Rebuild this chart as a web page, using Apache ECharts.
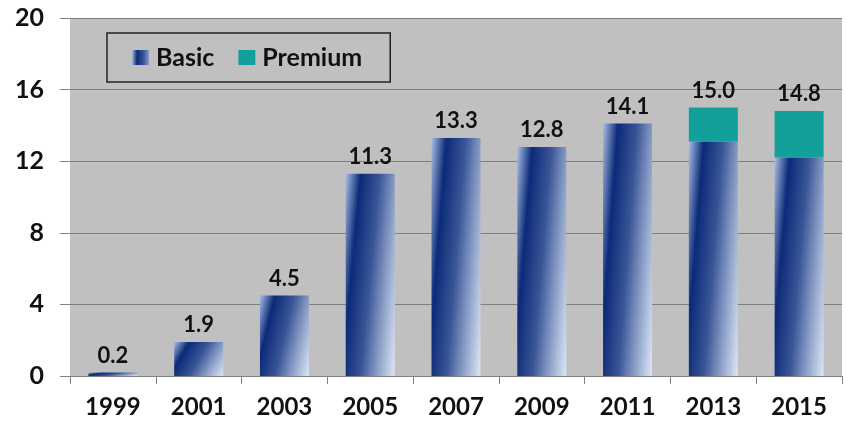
<!DOCTYPE html>
<html><head><meta charset="utf-8">
<script src="https://cdn.jsdelivr.net/npm/echarts@6/dist/echarts.min.js"></script>
<style>html,body{margin:0;padding:0;background:#fff}#c{width:848px;height:423px}</style>
</head><body><div id="c"></div>
<script>
const categories = ['1999','2001','2003','2005','2007','2009','2011','2013','2015'];
const basic = [0.2, 1.9, 4.5, 11.3, 13.3, 12.8, 14.1, 13.1, 12.2];
const premium = [0, 0, 0, 0, 0, 0, 0, 1.9, 2.6];
const totals = ['0.2','1.9','4.5','11.3','13.3','12.8','14.1','15.0','14.8'];
const yTicks = [0, 4, 8, 12, 16, 20];

const FONT = 'Lato';
const BAR_W = 49, PLOT_H = 358, Y_MAX = 20;
function grad(v) {
  const w = BAR_W, h = Math.max(v * PLOT_H / Y_MAX, 2);
  const S = 0.5184 / (w * w) + 0.0784 / (h * h);
  const x2 = 0.72 / (w * w * S), y2 = 0.28 / (h * h * S);
  return new echarts.graphic.LinearGradient(0, 0, x2, y2, [
    {offset: 0, color: '#a9bde3'},
    {offset: 0.22, color: '#0b2a78'},
    {offset: 0.5, color: '#3a5596'},
    {offset: 0.75, color: '#8ea2c9'},
    {offset: 1, color: '#dde6f6'}
  ]);
}
const chart = echarts.init(document.getElementById('c'));
chart.setOption({
  animation: false,
  textStyle: {fontFamily: FONT},
  grid: {left: 70, right: 6, top: 18, bottom: 47, show: true, backgroundColor: '#c0c0c0', borderWidth: 0},
  legend: {
    data: ['Basic', 'Premium'],
    left: 107, top: 33,
    padding: [12, 28, 12, 25],
    borderColor: '#222', borderWidth: 1.5,
    itemWidth: 17, itemHeight: 15, itemGap: 24, icon: 'rect',
    textStyle: {fontFamily: FONT, fontWeight: 'bold', fontSize: 25, color: '#111', padding: [0, 0, 0, 2]}
  },
  xAxis: {
    type: 'category', data: categories,
    axisLine: {lineStyle: {color: '#7f7f7f', width: 1}},
    axisTick: {show: true, length: 8, lineStyle: {color: '#7f7f7f'}},
    axisLabel: {fontFamily: FONT, fontWeight: 'bold', fontSize: 24, color: '#111', margin: 19}
  },
  yAxis: {
    type: 'value', min: 0, max: 20, interval: 4,
    axisLine: {show: false},
    axisTick: {show: true, length: 10, lineStyle: {color: '#7f7f7f'}},
    splitLine: {lineStyle: {color: '#7f7f7f', width: 1}},
    axisLabel: {fontFamily: FONT, fontWeight: 'bold', fontSize: 25, color: '#111', margin: 26,
      customValues: yTicks}
  },
  series: [
    {
      name: 'Basic', type: 'bar', stack: 'a', barWidth: BAR_W,
      itemStyle: {color: grad(12)},
      data: basic.map(v => ({value: v, itemStyle: {color: grad(v)}}))
    },
    {
      name: 'Premium', type: 'bar', stack: 'a', barWidth: BAR_W,
      itemStyle: {color: '#14a09a'},
      label: {show: true, position: 'top', distance: 6,
        fontFamily: FONT, fontWeight: 'bold', fontSize: 22, color: '#111',
        formatter: p => totals[p.dataIndex]},
      data: premium
    }
  ]
});
</script></body></html>
